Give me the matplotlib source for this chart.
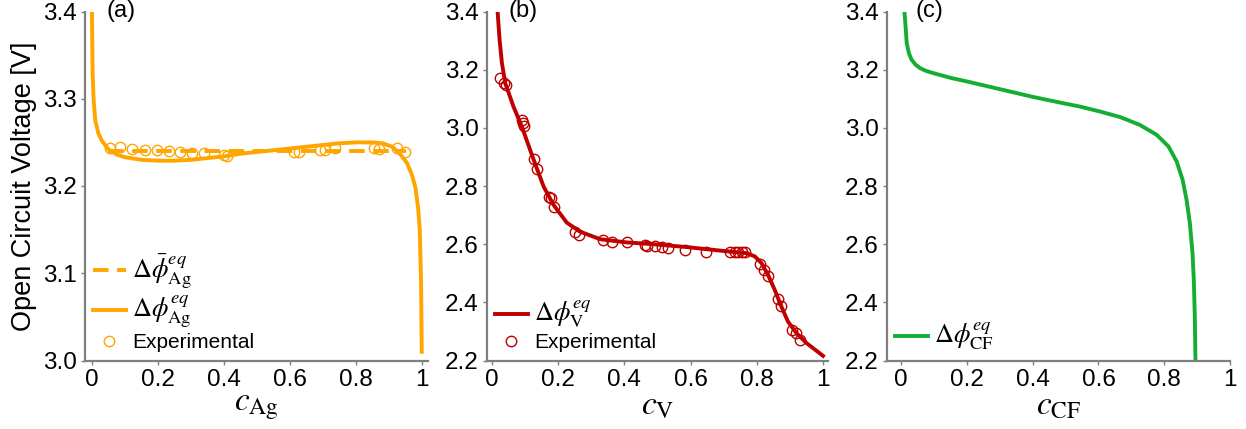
import matplotlib
matplotlib.use("Agg")
import matplotlib.pyplot as plt

plt.rcParams['font.family'] = ['Liberation Sans', 'DejaVu Sans']
plt.rcParams['mathtext.fontset'] = 'stix'

# ---------------- data ----------------
# (a) Ag
ag_x = [0.0, 0.002, 0.005, 0.01, 0.02, 0.03, 0.05, 0.075, 0.1, 0.15, 0.2, 0.25, 0.3,
        0.35, 0.4, 0.45, 0.5, 0.55, 0.6, 0.65, 0.7, 0.75, 0.8, 0.85, 0.88, 0.91,
        0.935, 0.955, 0.97, 0.98, 0.988, 0.993, 0.997, 0.999]
ag_y = [3.40, 3.33, 3.30, 3.275, 3.26, 3.252, 3.242, 3.236, 3.233, 3.230, 3.229, 3.229,
        3.230, 3.232, 3.234, 3.237, 3.239, 3.241, 3.243, 3.245, 3.247, 3.249, 3.250,
        3.250, 3.249, 3.245, 3.236, 3.226, 3.212, 3.198, 3.175, 3.150, 3.09, 3.01]
ag_mean_x = [0.05, 0.95]
ag_mean_y = [3.24, 3.24]
ag_exp_x = [0.055, 0.086, 0.121, 0.162, 0.197, 0.232, 0.268, 0.303, 0.338, 0.399, 0.409,
            0.611, 0.626, 0.692, 0.707, 0.737, 0.853, 0.869, 0.924, 0.949]
ag_exp_y = [3.2434, 3.2446, 3.2423, 3.2415, 3.2407, 3.2396, 3.2384, 3.2377, 3.2377, 3.2358,
            3.2346, 3.2388, 3.2388, 3.2407, 3.2415, 3.2441, 3.2441, 3.2423, 3.2434, 3.2388]

# (b) V
v_x = [0.017, 0.023, 0.030, 0.040, 0.065, 0.090, 0.126, 0.156, 0.186, 0.226, 0.266, 0.327,
       0.407, 0.487, 0.588, 0.688, 0.769, 0.794, 0.814, 0.834, 0.854, 0.874, 0.894, 0.920,
       0.950, 1.0]
v_y = [3.40, 3.303, 3.223, 3.154, 3.073, 3.005, 2.890, 2.798, 2.735, 2.674, 2.643, 2.617,
       2.606, 2.600, 2.590, 2.578, 2.569, 2.558, 2.535, 2.494, 2.443, 2.386, 2.334, 2.294,
       2.260, 2.216]
v_exp_x = [0.023, 0.035, 0.043, 0.090, 0.095, 0.097, 0.128, 0.137, 0.171, 0.178, 0.188,
           0.251, 0.264, 0.335, 0.362, 0.409, 0.462, 0.467, 0.492, 0.513, 0.532, 0.583,
           0.646, 0.720, 0.734, 0.744, 0.754, 0.764, 0.811, 0.821, 0.834, 0.864, 0.874,
           0.907, 0.917, 0.929]
v_exp_y = [3.173, 3.154, 3.148, 3.028, 3.016, 3.005, 2.892, 2.858, 2.762, 2.758, 2.727,
           2.643, 2.632, 2.613, 2.609, 2.606, 2.598, 2.592, 2.592, 2.590, 2.586, 2.580,
           2.573, 2.573, 2.573, 2.573, 2.573, 2.573, 2.532, 2.512, 2.491, 2.411, 2.386,
           2.305, 2.294, 2.269]

# (c) CF
cf_x = [0.010, 0.014, 0.017, 0.024, 0.032, 0.044, 0.058, 0.075, 0.098, 0.15, 0.202, 0.3,
        0.402, 0.5, 0.544, 0.605, 0.666, 0.726, 0.777, 0.813, 0.838, 0.856, 0.868, 0.878,
        0.886, 0.890, 0.893, 0.895]
cf_y = [3.40, 3.34, 3.291, 3.255, 3.234, 3.217, 3.205, 3.196, 3.188, 3.172, 3.159, 3.133,
        3.106, 3.083, 3.073, 3.056, 3.037, 3.010, 2.976, 2.936, 2.884, 2.821, 2.752, 2.672,
        2.569, 2.477, 2.35, 2.2]

ticks_x = [0, 0.2, 0.4, 0.6, 0.8, 1.0]
tick_x_labels = ['0', '0.2', '0.4', '0.6', '0.8', '1']

orange = '#FFA500'
red = '#C00000'
green = '#16AD35'
spine_c = '#7F7F7F'

W, H = 1246, 429
fig = plt.figure(figsize=(W / 100, H / 100), dpi=100)


def make_ax(left_px, right_px, xlim, ylim, yticks):
    ax = fig.add_axes([left_px / W, (H - 360.5) / H, (right_px - left_px) / W, 349 / H])
    ax.set_xlim(*xlim)
    ax.set_ylim(*ylim)
    for s in ['top', 'right']:
        ax.spines[s].set_visible(False)
    for s in ['left', 'bottom']:
        ax.spines[s].set_color(spine_c)
        ax.spines[s].set_linewidth(1.6)
    ax.tick_params(direction='out', length=3, width=1, color=spine_c,
                   labelsize=17.5, labelcolor='black', pad=3)
    ax.set_xticks(ticks_x)
    ax.set_xticklabels(tick_x_labels)
    ax.set_yticks(yticks)
    ax.set_yticklabels(['%.1f' % t for t in yticks])
    return ax


def style_legend(ax):
    leg = ax.legend(loc='lower left', frameon=False, fontsize=15, handlelength=1.55,
                    handletextpad=0.3, labelspacing=0.15, borderaxespad=0.2, borderpad=0.2)
    for t in leg.get_texts():
        if t.get_text().startswith('$'):
            t.set_fontsize(19)
    return leg


# (a)
axa = make_ax(85, 428, (-0.021, 1.018), (3.0, 3.4), [3.0, 3.1, 3.2, 3.3, 3.4])
axa.plot(ag_mean_x, ag_mean_y, '--', color=orange, lw=2.8, dashes=(4, 2.2),
         label=r'$\Delta\bar{\phi}^{eq}_{\mathrm{Ag}}$', zorder=2)
axa.plot(ag_x, ag_y, '-', color=orange, lw=2.8,
         label=r'$\Delta\phi^{eq}_{\mathrm{Ag}}$', zorder=3)
axa.plot(ag_exp_x, ag_exp_y, 'o', mfc='none', mec=orange, ms=7.5, mew=1.0,
         label='Experimental', zorder=4)
axa.set_ylabel('Open Circuit Voltage [V]', fontsize=19.5, labelpad=4)
axa.set_xlabel(r'$c_{\mathrm{Ag}}$', fontsize=24, labelpad=0)
axa.text(0.045, 3.4, '(a)', fontsize=17, va='center', ha='left')
style_legend(axa)

# (b)
axb = make_ax(487, 828, (-0.015, 1.015), (2.2, 3.4), [2.2, 2.4, 2.6, 2.8, 3.0, 3.2, 3.4])
axb.plot(v_x, v_y, '-', color=red, lw=2.8, label=r'$\Delta\phi^{eq}_{\mathrm{V}}$', zorder=3)
axb.plot(v_exp_x, v_exp_y, 'o', mfc='none', mec=red, ms=7.5, mew=1.0,
         label='Experimental', zorder=4)
axb.set_xlabel(r'$c_{\mathrm{V}}$', fontsize=24, labelpad=0)
axb.text(0.05, 3.4, '(b)', fontsize=17, va='center', ha='left')
style_legend(axb)

# (c)
axc = make_ax(887, 1230, (-0.043, 1.0), (2.2, 3.4), [2.2, 2.4, 2.6, 2.8, 3.0, 3.2, 3.4])
axc.plot(cf_x, cf_y, '-', color=green, lw=2.8, label=r'$\Delta\phi^{eq}_{\mathrm{CF}}$')
axc.set_xlabel(r'$c_{\mathrm{CF}}$', fontsize=24, labelpad=0)
axc.text(0.045, 3.4, '(c)', fontsize=17, va='center', ha='left')
style_legend(axc)

fig.savefig('out.png', dpi=100)
